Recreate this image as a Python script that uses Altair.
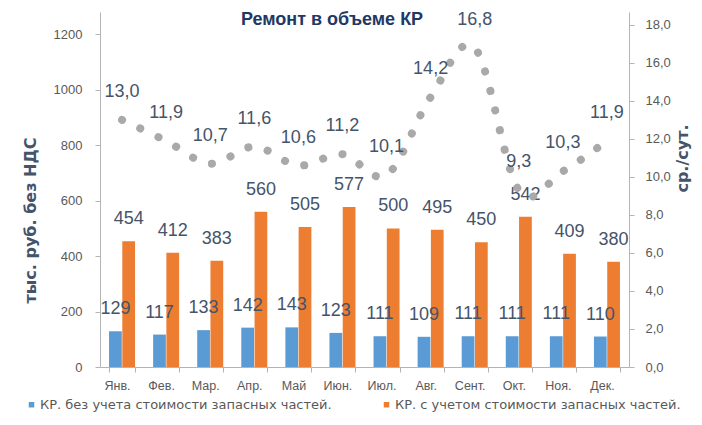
import altair as alt
import pandas as pd

months = ["Янв.", "Фев.", "Мар.", "Апр.", "Май", "Июн.", "Июл.", "Авг.", "Сент.", "Окт.", "Ноя.", "Дек."]
without_parts = [129, 117, 133, 142, 143, 123, 111, 109, 111, 111, 111, 110]
with_parts = [454, 412, 383, 560, 505, 577, 500, 495, 450, 542, 409, 380]
per_day = [13.0, 11.9, 10.7, 11.6, 10.6, 11.2, 10.1, 14.2, 16.8, 9.3, 10.3, 11.9]

s1 = "КР. без учета стоимости запасных частей."
s2 = "КР. с учетом стоимости запасных частей."
title_text = "Ремонт в объеме КР"
left_ticks = [0, 200, 400, 600, 800, 1000, 1200]
right_ticks = [0, 2, 4, 6, 8, 10, 12, 14, 16, 18]

BLUE = "#5B9BD5"
ORANGE = "#ED7D31"
GREY_DOT = "#A9A9A9"
LABEL = "#44546A"
TICK = "#595959"
AXIS_LINE = "#B4B4B4"

bars_df = pd.DataFrame({
    "month": months * 2,
    "series": [s1] * 12 + [s2] * 12,
    "value": without_parts + with_parts,
})
line_df = pd.DataFrame({"month": months, "v": per_day})
title_df = pd.DataFrame({"t": [title_text]})

x_enc = alt.X(
    "month:N", sort=months,
    scale=alt.Scale(paddingInner=0.41, paddingOuter=0.205),
    axis=alt.Axis(title=None, labelAngle=0, tickBand="extent", tickSize=5,
                  labelPadding=7, labelFont="Liberation Sans", labelFontSize=12.5,
                  labelColor=TICK, labelOffset=-5, domainColor=AXIS_LINE, tickColor=AXIS_LINE),
)
xoff = alt.XOffset("series:N", sort=[s1, s2], scale=alt.Scale(paddingInner=0.04))

y_left = alt.Y(
    "value:Q",
    scale=alt.Scale(domain=[0, 1281], nice=False),
    axis=alt.Axis(values=left_ticks, format="d", grid=False, title="тыс. руб. без НДС",
                  titleFont="DejaVu Sans", titleFontWeight="bold", titleFontSize=16,
                  titleColor=LABEL, titleAngle=270, titleX=-70, titleY=208,
                  titleAlign="center", titleBaseline="middle",
                  labelFont="Liberation Sans", labelFontSize=13, labelColor=TICK,
                  labelPadding=13, tickSize=5, domainColor=AXIS_LINE, tickColor=AXIS_LINE),
)

y_right = alt.Y(
    "v:Q",
    scale=alt.Scale(domain=[0, 18.68], nice=False),
    axis=alt.Axis(orient="right", values=right_ticks, grid=False, title="ср./сут.",
                  labelExpr="replace(format(datum.value, '.1f'), '.', ',')",
                  titleFont="DejaVu Sans", titleFontWeight="bold", titleFontSize=16,
                  titleColor=LABEL, titleAngle=270, titleX=53, titleY=146,
                  titleAlign="center", titleBaseline="middle",
                  labelFont="Liberation Sans", labelFontSize=13, labelColor=TICK,
                  labelPadding=11, tickSize=5, domainColor=AXIS_LINE, tickColor=AXIS_LINE),
)

bars = alt.Chart(bars_df).mark_bar().encode(
    x=x_enc, xOffset=xoff, y=y_left,
    color=alt.Color("series:N", sort=[s1, s2],
                    scale=alt.Scale(domain=[s1, s2], range=[BLUE, ORANGE]),
                    legend=alt.Legend(title=None, orient="none", legendX=-75, legendY=386,
                                      direction="horizontal", symbolType="square",
                                      symbolSize=30, symbolStrokeWidth=0,
                                      labelFont="DejaVu Sans", labelFontSize=13,
                                      labelColor=TICK, labelLimit=500, labelOffset=2,
                                      columnPadding=48, padding=0)),
)
bar_text = alt.Chart(bars_df).mark_text(
    dy=-22, fontSize=18, font="Liberation Sans", color=LABEL, baseline="middle"
).encode(x=x_enc, xOffset=xoff, y=y_left, text="value:Q")

line = alt.Chart(line_df).mark_line(
    interpolate="cardinal", strokeDash=[0.1, 20], strokeCap="round",
    strokeWidth=8, color=GREY_DOT
).encode(x=x_enc, y=y_right)
line_text = alt.Chart(line_df).transform_calculate(
    lbl="replace(format(datum.v, '.1f'), '.', ',')"
).mark_text(
    dy=-28, fontSize=18, font="Liberation Sans", color=LABEL, baseline="middle"
).encode(x=x_enc, y=y_right, text="lbl:N")

title_mark = alt.Chart(title_df).mark_text(
    font="Liberation Sans", fontSize=18, fontWeight="bold", color="#1F3864",
    baseline="alphabetic", align="center"
).encode(x=alt.value(232), y=alt.value(13), text="t:N")

chart = alt.layer(
    alt.layer(bars, bar_text),
    alt.layer(line, line_text),
    title_mark,
).resolve_scale(y="independent", color="independent").properties(
    width=529, height=355,
    autosize=alt.AutoSizeParams(type="none"),
    padding={"left": 92, "top": 4, "right": 65, "bottom": 46},
).configure_view(stroke=None)

chart.save("out.html", embed_options={"renderer": "svg", "actions": False})
